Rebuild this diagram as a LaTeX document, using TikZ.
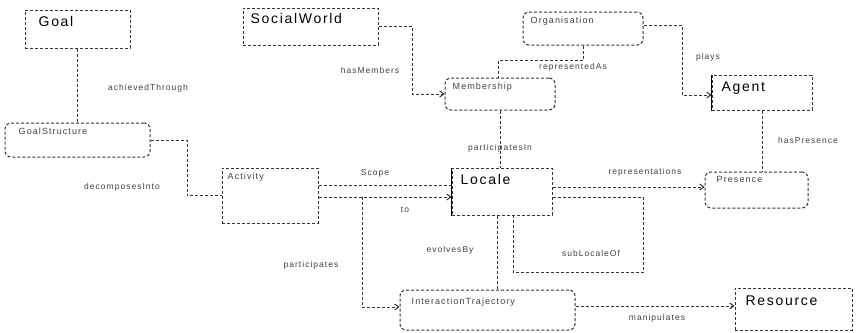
\documentclass[tikz,border=0pt]{standalone}
\usepackage{fontspec}
\setmainfont{Liberation Sans}
\newfontfamily\namefont[LetterSpace=12]{Liberation Sans}
\newfontfamily\labfont[LetterSpace=12]{Liberation Sans}
\usetikzlibrary{arrows.meta,calc}
\begin{document}
\begin{tikzpicture}[x=1pt,y=-1pt,
  clsbox/.style={draw=black!80, densely dashed, line width=1pt, inner sep=0pt, anchor=center},
  rclsbox/.style={clsbox, rounded corners=6pt},
  clsname/.style={anchor=north west, inner sep=0pt, font=\namefont\fontsize{14}{15}\selectfont},
  iclsname/.style={anchor=north west, inner sep=0pt, text=black!75, font=\labfont\fontsize{9}{10}\selectfont},
  lab/.style={inner sep=1pt, text=black!75, font=\labfont\fontsize{8.5}{9}\selectfont},
  conn/.style={draw=black!80, densely dashed, line width=1pt},
  endtip/.style={-{Straight Barb[length=4pt,width=6pt]}},
  solidedge/.style={line width=1.5pt, black}]
\fill[white] (0,0) rectangle (856,332);
\useasboundingbox (0,0) rectangle (856,332);

% boxes
\node[clsbox,  minimum width=105pt, minimum height=38pt] (goal) at (77.5,29) {};
\node[rclsbox, minimum width=145pt, minimum height=34pt] (obj) at (77.5,140) {};
\node[clsbox,  minimum width=96pt,  minimum height=55pt] (task) at (270,195.5) {};
\node[clsbox,  minimum width=135pt, minimum height=37pt] (social) at (310.5,26.5) {};
\node[rclsbox, minimum width=110pt, minimum height=32pt] (member) at (500,94) {};
\node[rclsbox, minimum width=120pt, minimum height=33pt] (person) at (583,28.5) {};
\node[clsbox,  minimum width=100pt, minimum height=35pt] (agent) at (762,92.5) {};
\node[clsbox,  minimum width=100pt, minimum height=47pt] (locale) at (502,191.5) {};
\node[rclsbox, minimum width=103pt, minimum height=36pt] (presence) at (756.5,190) {};
\node[rclsbox, minimum width=175pt, minimum height=40pt] (traj) at (487.5,310) {};
\node[clsbox,  minimum width=117pt, minimum height=42pt] (resource) at (793.5,309) {};

\draw[solidedge] (locale.north west) -- (locale.south west);
\draw[solidedge] (agent.north west) -- (agent.south west);

% names
\node[clsname] (tgoal) at ($(goal.north west)+(14,7)$) {Goal};
\node[clsname] (tsocial) at ($(social.north west)+(8,6)$) {SocialWorld};
\node[clsname] (tagent) at ($(agent.north west)+(10,7)$) {Agent};
\node[clsname] (tlocale) at ($(locale.north west)+(9,7)$) {Locale};
\node[clsname] (tresource) at ($(resource.north west)+(11,8)$) {Resource};
\node[iclsname] (tobj) at ($(obj.north west)+(14,5)$) {GoalStructure};
\node[iclsname] (ttask) at ($(task.north west)+(6,5)$) {Activity};
\node[iclsname] (tmember) at ($(member.north west)+(8,5)$) {Membership};
\node[iclsname] (tperson) at ($(person.north west)+(8,5)$) {Organisation};
\node[iclsname] (tpresence) at ($(presence.north west)+(12,5)$) {Presence};
\node[iclsname] (ttraj) at ($(traj.north west)+(12,8)$) {InteractionTrajectory};

% connectors
\draw[conn] (goal.south) -- (obj.north);
\node[lab] (lgoal) at (148,88) {achievedThrough};

\coordinate (c1) at (187,140);
\draw[conn] (obj.east) -- (c1) |- (task.west);
\node[lab] (lobj) at (122,187) {decomposesInto};

\coordinate (s1) at (385,185);
\coordinate (s2) at (362,197);
\coordinate (s3) at (362,307);
\draw[conn] (task.east |- s1) -- (locale.west |- s1);
\draw[conn,endtip] (task.east |- s2) -- (locale.west |- s2);
\draw[conn,endtip] (s2) -- (s3) -- (traj.west |- s3);
\node[lab] (lscope) at (375,173) {Scope};
\node[lab] (lto) at (405,210) {to};
\node[lab] (lpart) at (311,265) {participates};

\coordinate (m1) at (412,26.5);
\coordinate (m2) at (412,94);
\draw[conn,endtip] (social.east) -- (m1) -- (m2) -- (member.west |- m2);
\node[lab] (lsocial) at (370,70) {hasMembers};

\coordinate (p1) at (583,60);
\coordinate (p2) at (498,60);
\draw[conn] (person.south) -- (p1) -- (p2) -- (p2 |- member.north);
\node[lab] (lperson) at (573,67) {representedAs};

\coordinate (q1) at (682,25);
\coordinate (q2) at (682,95);
\draw[conn,endtip] (person.east |- q1) -- (q1) -- (q2) -- (agent.west |- q2);
\node[lab] (lplays) at (708,57) {plays};

\draw[conn] (member.south) -- (member.south |- locale.north);
\node[lab] (lmember) at (500,148) {participatesIn};

\draw[conn] (agent.south) -- (agent.south |- presence.north);
\node[lab] (lagent) at (808,140) {hasPresence};

\coordinate (r1) at (640,187);
\draw[conn,endtip] (locale.east |- r1) -- (presence.west |- r1);
\node[lab] (lrep) at (645,172) {representations};

\coordinate (t1) at (643,197);
\coordinate (t2) at (643,272);
\coordinate (t3) at (513,272);
\draw[conn] (locale.east |- t1) -- (t1) -- (t2) -- (t3) -- (t3 |- locale.south);
\node[lab] (lsub) at (591,253) {subLocaleOf};

\coordinate (u1) at (497,250);
\draw[conn] (u1 |- locale.south) -- (u1 |- traj.north);
\node[lab] (levolve) at (450,250) {evolvesBy};

\coordinate (v1) at (650,306);
\draw[conn,endtip] (traj.east |- v1) -- (resource.west |- v1);
\node[lab] (lres) at (657,318) {manipulates};
\end{tikzpicture}
\end{document}
